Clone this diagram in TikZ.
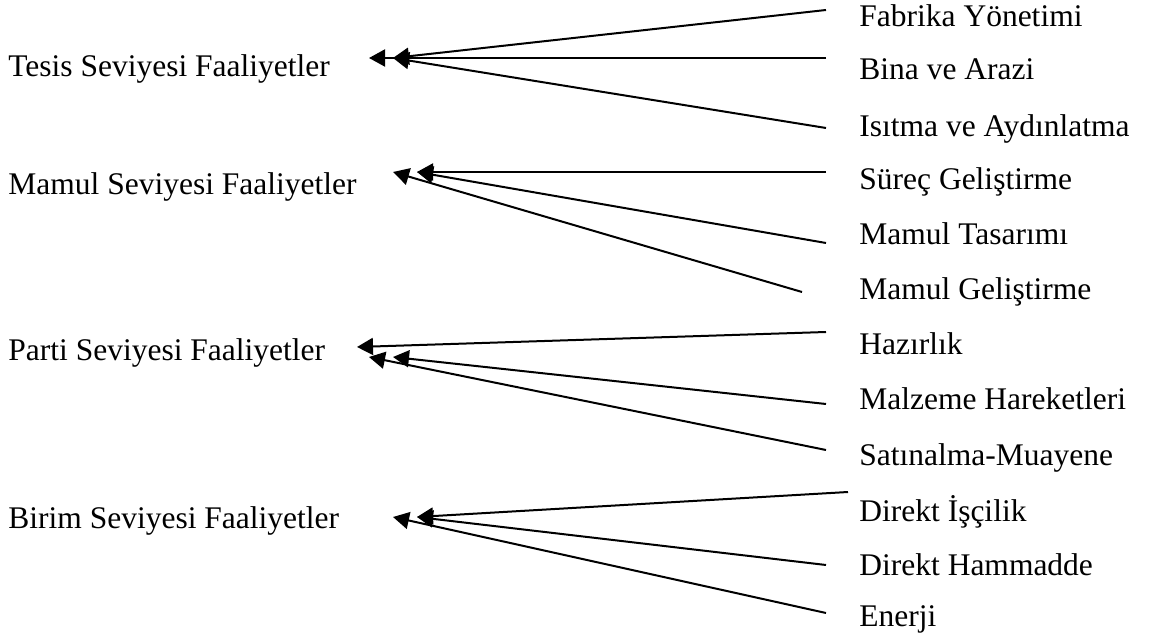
\documentclass[tikz,border=0pt]{standalone}
\usepackage{fontspec}
\setmainfont{Liberation Serif}
\usetikzlibrary{arrows.meta}
\begin{document}
\begin{tikzpicture}[x=0.5pt,y=-0.5pt,
  lbl/.style={anchor=base west,inner sep=0pt,font=\fontsize{15.75}{18}\selectfont},
  conn/.style={line width=1pt,-{Triangle[length=8pt,width=8.5pt]}}]
\useasboundingbox (0,0) rectangle (1156,640);
% left labels
\node[lbl] (tesis) at (8,77) {Tesis Seviyesi Faaliyetler};
\node[lbl] (mamul) at (8,195) {Mamul Seviyesi Faaliyetler};
\node[lbl] (parti) at (8,361) {Parti Seviyesi Faaliyetler};
\node[lbl] (birim) at (8,529) {Birim Seviyesi Faaliyetler};
% right labels
\node[lbl] (r1) at (859,27) {Fabrika Yönetimi};
\node[lbl] (r2) at (859,80) {Bina ve Arazi};
\node[lbl] (r3) at (859,137) {Isıtma ve Aydınlatma};
\node[lbl] (r4) at (859,190) {Süreç Geliştirme};
\node[lbl] (r5) at (859,245) {Mamul Tasarımı};
\node[lbl] (r6) at (859,300) {Mamul Geliştirme};
\node[lbl] (r7) at (859,355) {Hazırlık};
\node[lbl] (r8) at (859,410) {Malzeme Hareketleri};
\node[lbl] (r9) at (859,466) {Satınalma-Muayene};
\node[lbl] (r10) at (859,522) {Direkt İşçilik};
\node[lbl] (r11) at (859,575) {Direkt Hammadde};
\node[lbl] (r12) at (859,626) {Enerji};
% tips
\coordinate (t1) at (369,58);
\coordinate (t2) at (393,58);
\coordinate (m1) at (393,172);
\coordinate (m2) at (417,172);
\coordinate (p1) at (357,347);
\coordinate (p2) at (369,357);
\coordinate (p3) at (393,357);
\coordinate (b1) at (393,517);
\coordinate (b2) at (417,517);
% free ends
\coordinate (e1) at (826,10);
\coordinate (e2) at (826,58);
\coordinate (e3) at (826,128);
\coordinate (e4) at (826,172);
\coordinate (e5) at (826,243);
\coordinate (e6) at (802,292);
\coordinate (e7) at (826,332);
\coordinate (e8) at (826,404);
\coordinate (e9) at (826,450);
\coordinate (e10) at (848,492);
\coordinate (e11) at (826,565);
\coordinate (e12) at (826,613);
% connectors
\draw[conn] (e1) -- (t2);
\draw[conn] (e2) -- (t1);
\draw[conn] (e3) -- (t2);
\draw[conn] (e4) -- (m2);
\draw[conn] (e5) -- (m2);
\draw[conn] (e6) -- (m1);
\draw[conn] (e7) -- (p1);
\draw[conn] (e8) -- (p3);
\draw[conn] (e9) -- (p2);
\draw[conn] (e10) -- (b2);
\draw[conn] (e11) -- (b2);
\draw[conn] (e12) -- (b1);
\end{tikzpicture}
\end{document}
